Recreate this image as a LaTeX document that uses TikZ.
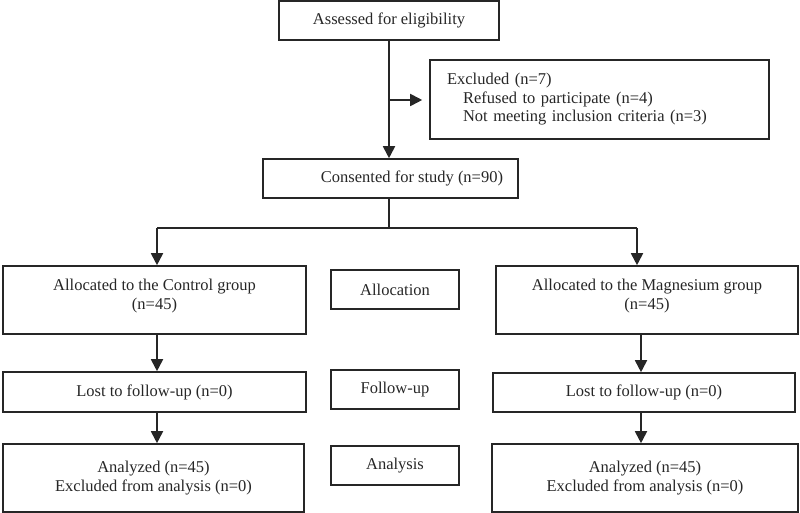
\documentclass[tikz,border=0pt]{standalone}
\usepackage{fontspec}
\setmainfont{Liberation Serif}
\usetikzlibrary{arrows.meta}
\begin{document}
\begin{tikzpicture}[x=1pt,y=-1pt,
  box/.style={draw=black!85, line width=1.6pt, inner sep=0pt, align=center,
    font=\fontsize{16.5}{18.5}\selectfont, text=black!85},
  conn/.style={draw=black!85, line width=1.8pt},
  arr/.style={conn, -{Triangle[length=12pt,width=12pt]}}]
\useasboundingbox (0,0) rectangle (800,513);
% nodes
\node[box, minimum width=220pt, minimum height=39pt] (assess) at (389,20.5) {Assessed for eligibility};
\node[box, minimum width=339pt, minimum height=79pt, text width=305pt, align=left] (excl) at (599.5,99.5)
  {Excluded (n=7)\\\hspace*{16pt}Refused to participate (n=4)\\\hspace*{16pt}Not meeting inclusion criteria (n=3)\\[-6pt]};
\node[box, minimum width=255pt, minimum height=39pt] (consent) at (390.5,178.5) {\hspace*{43pt}Consented for study (n=90)};
\node[box, minimum width=303pt, minimum height=68pt] (allocC) at (154.5,300) {Allocated to the Control group\\(n=45)\\[-7pt]};
\node[box, minimum width=128pt, minimum height=39pt] (allocL) at (395,289.5) {Allocation};
\node[box, minimum width=302pt, minimum height=68pt] (allocM) at (647,300) {Allocated to the Magnesium group\\(n=45)\\[-7pt]};
\node[box, minimum width=303pt, minimum height=40pt] (lostC) at (154.5,392) {Lost to follow-up (n=0)};
\node[box, minimum width=128pt, minimum height=39pt] (followL) at (395,389.5) {Follow-up};
\node[box, minimum width=302pt, minimum height=39pt] (lostM) at (644,392.5) {Lost to follow-up (n=0)};
\node[box, minimum width=301pt, minimum height=68pt] (anC) at (153.5,478) {Analyzed (n=45)\\Excluded from analysis (n=0)};
\node[box, minimum width=128pt, minimum height=39pt] (anL) at (395,465.5) {Analysis};
\node[box, minimum width=306pt, minimum height=68pt] (anM) at (645,478) {Analyzed (n=45)\\Excluded from analysis (n=0)};
% helper coordinates
\coordinate (trunk) at (389,0);
\coordinate (branch) at (389,100);
\coordinate (split) at (389,228);
\coordinate (sL) at (157,228);
\coordinate (sR) at (637,228);
\coordinate (cl) at (157,0);
\coordinate (cr) at (641,0);
% connectors
\draw[arr] (trunk |- assess.south) -- (trunk |- consent.north);
\draw[arr, shorten >=7pt] (branch) -- (excl.west |- branch);
\draw[conn] (trunk |- consent.south) -- (split);
\draw[conn] (sL) -- (sR);
\draw[arr] (sL) -- (sL |- allocC.north);
\draw[arr] (sR) -- (sR |- allocM.north);
\draw[arr] (cl |- allocC.south) -- (cl |- lostC.north);
\draw[arr] (cl |- lostC.south) -- (cl |- anC.north);
\draw[arr] (cr |- allocM.south) -- (cr |- lostM.north);
\draw[arr] (cr |- lostM.south) -- (cr |- anM.north);
\end{tikzpicture}
\end{document}
